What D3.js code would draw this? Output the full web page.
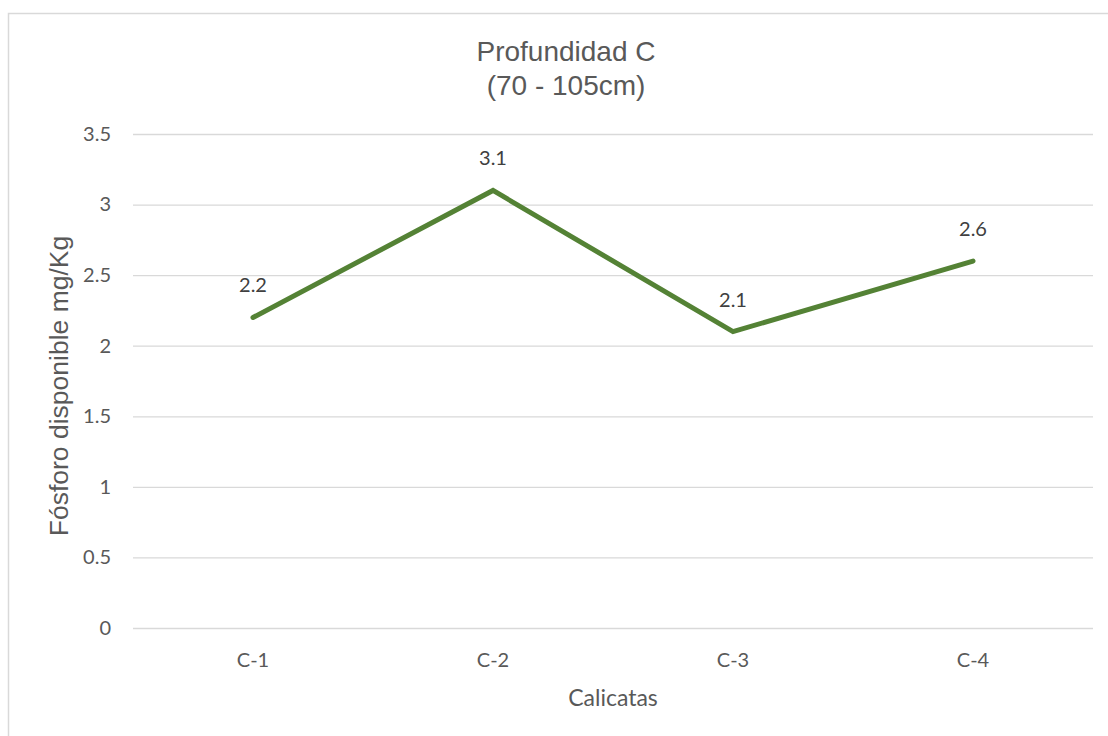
<!DOCTYPE html>
<html><head><meta charset="utf-8">
<script src="https://cdn.jsdelivr.net/npm/d3@7"></script>
<style>body{margin:0;background:#fff}svg{display:block}</style>
</head><body>
<script>
const categories = ["C-1","C-2","C-3","C-4"];
const values = [2.2, 3.1, 2.1, 2.6];
const yTicks = [0,0.5,1,1.5,2,2.5,3,3.5];
const titleLines = ["Profundidad C","(70 - 105cm)"];
const xTitle = "Calicatas";
const yTitle = "Fósforo disponible mg/Kg";

const W=1108,H=736;
const svg=d3.select("body").append("svg").attr("width",W).attr("height",H);
svg.append("rect").attr("x",8.5).attr("y",13.5).attr("width",1120).attr("height",740)
  .attr("fill","#fff").attr("stroke","#d9d9d9").attr("stroke-width",1.5);

const L=133,R=1093,T=134,B=628;
const x=d3.scaleBand().domain(categories).range([L,R]);
const y=d3.scaleLinear().domain([0,3.5]).range([B,T]);
const tickFont="Lato, 'Open Sans', sans-serif";

const gy=svg.append("g").attr("transform",`translate(${L},0)`)
  .call(d3.axisLeft(y).tickValues(yTicks).tickSize(-(R-L)).tickPadding(22).tickFormat(d3.format("")));
gy.select(".domain").remove();
gy.selectAll(".tick line").attr("stroke","#d9d9d9").attr("stroke-width",1.3);
gy.selectAll(".tick text").attr("fill","#595959").style("font-family",tickFont).style("font-size","20px");

const gx=svg.append("g").attr("transform",`translate(0,${B})`)
  .call(d3.axisBottom(x).tickSize(0).tickPadding(22));
gx.select(".domain").remove();
gx.selectAll(".tick text").attr("fill","#595959").attr("y",39).attr("dy",0)
  .style("font-family",tickFont).style("font-size","20px");

const line=d3.line().x((d,i)=>x(categories[i])+x.bandwidth()/2).y(d=>y(d));
svg.append("path").datum(values).attr("d",line).attr("fill","none")
  .attr("stroke","#548235").attr("stroke-width",5).attr("stroke-linejoin","miter").attr("stroke-linecap","round");

svg.selectAll(".lbl").data(values).enter().append("text")
  .attr("x",(d,i)=>x(categories[i])+x.bandwidth()/2).attr("y",d=>y(d)-25)
  .attr("text-anchor","middle").attr("fill","#404040")
  .style("font-family",tickFont).style("font-size","20px").text(d=>d3.format(".1f")(d));

svg.selectAll(".ttl").data(titleLines).enter().append("text")
  .attr("x",566).attr("y",(d,i)=>61+i*34).attr("text-anchor","middle")
  .attr("fill","#595959").style("font-family","'Liberation Sans', Arial, sans-serif").style("font-size","28px").text(d=>d);

svg.append("text").attr("x",(L+R)/2).attr("y",706).attr("text-anchor","middle")
  .attr("fill","#595959").style("font-family",tickFont).style("font-size","23px").text(xTitle);

svg.append("text").attr("transform",`translate(68,386) rotate(-90)`).attr("text-anchor","middle")
  .attr("fill","#595959").style("font-family","'Liberation Sans', Arial, sans-serif").style("font-size","26.5px").text(yTitle);
</script>
</body></html>
